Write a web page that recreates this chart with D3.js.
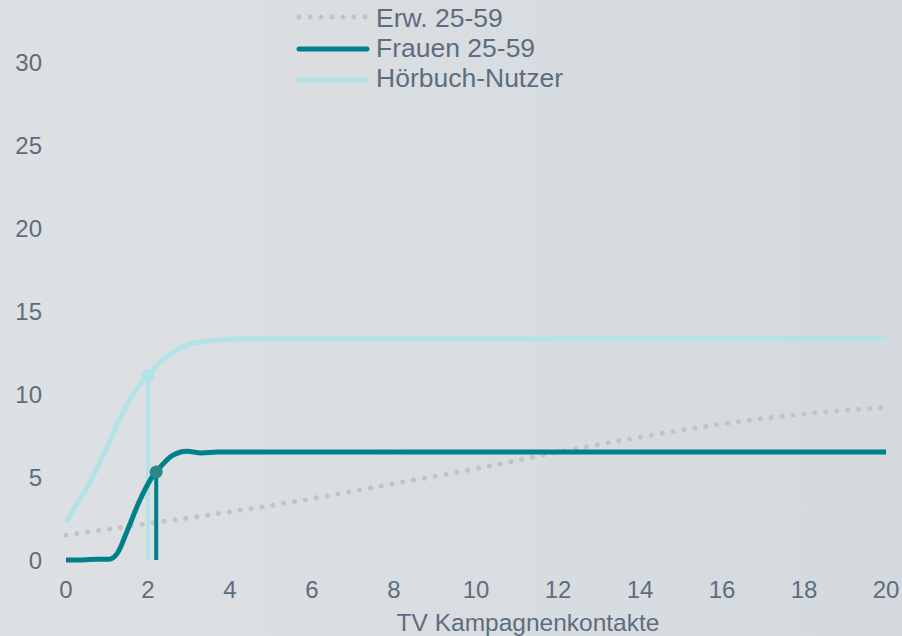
<!DOCTYPE html>
<html>
<head>
<meta charset="utf-8">
<script src="https://cdn.jsdelivr.net/npm/d3@7"></script>
<style>
  html, body { margin: 0; padding: 0; }
  body { width: 902px; height: 636px; overflow: hidden; }
  text { font-family: "Liberation Sans", Arial, sans-serif; }
</style>
</head>
<body>
<div class="chart"></div>
<script>
var width = 902, height = 636;
var margin = ({top: 62, right: 16, bottom: 76, left: 66})
var textColor = "#5d6d7e"

// data
var seriesNames = ["Erw. 25-59", "Frauen 25-59", "Hörbuch-Nutzer"]
var xTicks = [0, 2, 4, 6, 8, 10, 12, 14, 16, 18, 20]
var yTicks = [0, 5, 10, 15, 20, 25, 30]

var erwX = [0, 2, 4, 6, 8, 10, 12, 14, 16, 18, 20]
var erwY = [1.5, 2.2, 2.9, 3.7, 4.6, 5.5, 6.5, 7.4, 8.2, 8.8, 9.2]

var frauenX = [0, 0.4, 0.75, 1.05, 1.25, 1.5, 1.8, 2.05, 2.3, 2.6, 2.95, 3.3, 3.7, 20]
var frauenY = [0, 0, 0.05, 0.05, 0.4, 1.8, 3.6, 4.8, 5.6, 6.3, 6.55, 6.45, 6.5, 6.5]

var hoerX = [0, 0.25, 0.5, 0.75, 1, 1.25, 1.5, 1.75, 2, 2.25, 2.5, 2.75, 3, 3.5, 4, 5, 20]
var hoerY = [2.3, 3.3, 4.3, 5.5, 6.8, 8.2, 9.4, 10.4, 11.1, 11.8, 12.3, 12.7, 13.0, 13.2, 13.3, 13.35, 13.35]

// marked reading points
var markX = [2.2, 2.0]
var markY = [5.3, 11.1]

var svg = d3.select(".chart")
  .append("svg")
    .attr("width", width)
    .attr("height", height)

// background gradient
var defs = svg.append("defs")
var grad = defs.append("linearGradient").attr("id", "bg")
  .attr("x1", "0%").attr("x2", "100%").attr("y1", "0%").attr("y2", "0%")
grad.append("stop").attr("offset", "0%").attr("stop-color", "#dde1e4")
grad.append("stop").attr("offset", "100%").attr("stop-color", "#d4d9dd")
svg.append("rect").attr("width", width).attr("height", height).attr("fill", "url(#bg)")

const x = d3.scaleLinear()
  .domain([0, 20])
  .range([margin.left, 886])

const y = d3.scaleLinear()
  .domain([0, 30])
  .range([560, margin.top])

// Y axis labels
svg.append("g")
  .selectAll("text")
  .data(yTicks)
  .join("text")
    .attr("x", 42)
    .attr("y", d => y(d))
    .attr("dy", "0.36em")
    .attr("text-anchor", "end")
    .attr("font-size", 24)
    .attr("fill", textColor)
    .text(d => d)

// X axis labels
svg.append("g")
  .selectAll("text")
  .data(xTicks)
  .join("text")
    .attr("x", d => x(d))
    .attr("y", 598)
    .attr("text-anchor", "middle")
    .attr("font-size", 24)
    .attr("fill", textColor)
    .text(d => d)

svg.append("text")
  .attr("x", 528)
  .attr("y", 631)
  .attr("text-anchor", "middle")
  .attr("font-size", 24.5)
  .attr("fill", textColor)
  .text("TV Kampagnenkontakte")

const line = d3.line()
  .x(d => x(d[0]))
  .y(d => y(d[1]))
  .curve(d3.curveMonotoneX)

var erw = erwX.map((v, i) => [v, erwY[i]])
var frauen = frauenX.map((v, i) => [v, frauenY[i]])
var hoer = hoerX.map((v, i) => [v, hoerY[i]])

// Erw. dotted
svg.append("path")
  .datum(erw)
  .attr("d", line)
  .attr("fill", "none")
  .attr("stroke", "#c3c3c5")
  .attr("stroke-width", 5)
  .attr("stroke-linecap", "round")
  .attr("stroke-dasharray", "0,11")

// Hörbuch-Nutzer
svg.append("path")
  .datum(hoer)
  .attr("d", line)
  .attr("fill", "none")
  .attr("stroke", "#b3e2e7")
  .attr("stroke-width", 5)

svg.append("line")
  .attr("x1", x(markX[1])).attr("x2", x(markX[1]))
  .attr("y1", y(markY[1])).attr("y2", y(0))
  .attr("stroke", "#b3e2e7")
  .attr("stroke-width", 4)
svg.append("circle")
  .attr("cx", x(markX[1])).attr("cy", y(markY[1]))
  .attr("r", 6.5)
  .attr("fill", "#b3e2e7")

// Frauen 25-59
svg.append("path")
  .datum(frauen)
  .attr("d", line)
  .attr("fill", "none")
  .attr("stroke", "#00808a")
  .attr("stroke-width", 5)

svg.append("line")
  .attr("x1", x(markX[0])).attr("x2", x(markX[0]))
  .attr("y1", y(markY[0])).attr("y2", y(0))
  .attr("stroke", "#00808a")
  .attr("stroke-width", 4)
svg.append("circle")
  .attr("cx", x(markX[0])).attr("cy", y(markY[0]))
  .attr("r", 6.5)
  .attr("fill", "#2e8489")

// Legend
var legendStyles = [
  {stroke: "#c3c3c5", dash: "0,11", ly: 17, ty: 27},
  {stroke: "#00808a", dash: null, ly: 49, ty: 57},
  {stroke: "#b3e2e7", dash: null, ly: 80, ty: 87}
]
var legend = svg.append("g")
  .selectAll("g")
  .data(seriesNames)
  .join("g")

legend.append("line")
  .attr("x1", 299)
  .attr("x2", 367)
  .attr("y1", (d, i) => legendStyles[i].ly)
  .attr("y2", (d, i) => legendStyles[i].ly)
  .attr("stroke", (d, i) => legendStyles[i].stroke)
  .attr("stroke-width", 5)
  .attr("stroke-linecap", "round")
  .attr("stroke-dasharray", (d, i) => legendStyles[i].dash)

legend.append("text")
  .attr("x", 376)
  .attr("y", (d, i) => legendStyles[i].ty)
  .attr("font-size", 26.5)
  .attr("fill", textColor)
  .text(d => d)
</script>
</body>
</html>
